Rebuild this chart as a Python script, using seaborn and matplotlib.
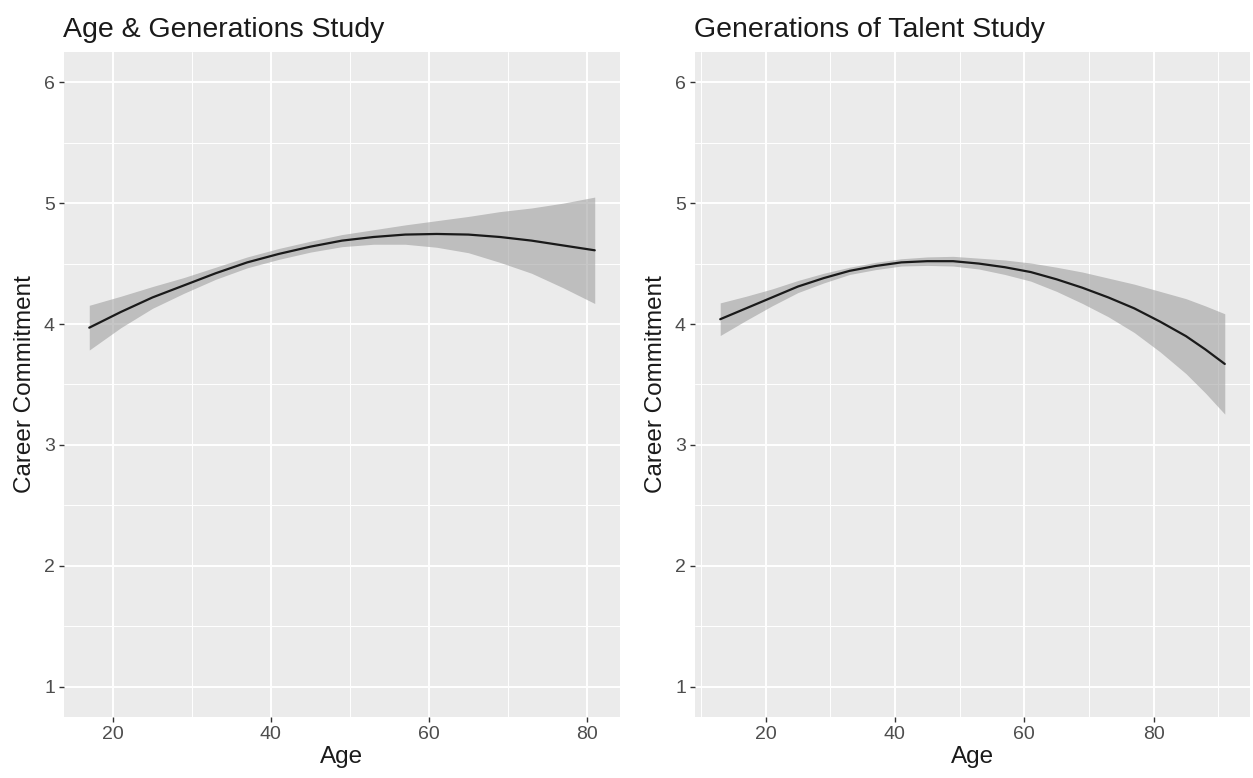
import matplotlib
matplotlib.use("Agg")
import matplotlib.pyplot as plt
import seaborn as sns
import pandas as pd
from matplotlib.ticker import MultipleLocator

# Age & Generations Study: fitted curve and confidence band
ag_age = [17, 21, 25, 29, 33, 37, 41, 45, 49, 53, 57, 61, 65, 69, 73, 77, 81]
ag_fit = [3.97, 4.10, 4.22, 4.32, 4.42, 4.51, 4.58, 4.64, 4.69, 4.72, 4.74, 4.745, 4.74, 4.72, 4.69, 4.65, 4.61]
ag_lo = [3.785, 3.97, 4.13, 4.255, 4.37, 4.465, 4.535, 4.595, 4.64, 4.66, 4.66, 4.635, 4.59, 4.51, 4.42, 4.30, 4.17]
ag_hi = [4.155, 4.23, 4.31, 4.385, 4.47, 4.555, 4.625, 4.685, 4.74, 4.78, 4.82, 4.855, 4.89, 4.93, 4.96, 5.00, 5.05]

# Generations of Talent Study
gt_age = [13, 17, 21, 25, 29, 33, 37, 41, 45, 49, 53, 57, 61, 65, 69, 73, 77, 81, 85, 88, 91]
gt_fit = [4.04, 4.13, 4.22, 4.31, 4.38, 4.44, 4.48, 4.51, 4.52, 4.52, 4.50, 4.47, 4.43, 4.37, 4.30, 4.22, 4.13, 4.02, 3.90, 3.79, 3.67]
gt_lo = [3.905, 4.03, 4.15, 4.26, 4.34, 4.41, 4.45, 4.48, 4.485, 4.48, 4.455, 4.41, 4.355, 4.27, 4.17, 4.06, 3.93, 3.77, 3.59, 3.43, 3.255]
gt_hi = [4.175, 4.23, 4.29, 4.36, 4.42, 4.47, 4.51, 4.54, 4.555, 4.56, 4.545, 4.53, 4.505, 4.47, 4.43, 4.38, 4.33, 4.27, 4.21, 4.15, 4.085]

titles = ["Age & Generations Study", "Generations of Talent Study"]
x_ticks = [20, 40, 60, 80]
y_ticks = [1, 2, 3, 4, 5, 6]

sns.set_theme(style="darkgrid", rc={
    "axes.facecolor": "#EBEBEB",
    "grid.color": "white",
})
plt.rcParams["font.family"] = ["Liberation Sans", "DejaVu Sans"]

W, H = 1253, 778
figure = plt.figure(figsize=(W / 100, H / 100), dpi=100)
figure.patch.set_facecolor("white")

panels = [
    (ag_age, ag_fit, ag_lo, ag_hi, 64, 620),
    (gt_age, gt_fit, gt_lo, gt_hi, 695, 1250),
]
top, bottom = 52, 717

for i, (age, fit, lo, hi, left, right) in enumerate(panels):
    ax = figure.add_axes([left / W, (H - bottom) / H, (right - left) / W, (bottom - top) / H])
    df = pd.DataFrame({"Age": age, "fit": fit, "lo": lo, "hi": hi})

    ax.fill_between(df["Age"], df["lo"], df["hi"], color="#999999", alpha=0.55, linewidth=0, zorder=2)
    sns.lineplot(df, x="Age", y="fit", color="#1a1a1a", linewidth=1.6, ax=ax, zorder=3)

    span = max(age) - min(age)
    ax.set_xlim(min(age) - 0.05 * span, max(age) + 0.05 * span)
    ax.set_ylim(0.75, 6.25)
    ax.set_xticks(x_ticks)
    ax.set_yticks(y_ticks)
    ax.xaxis.set_minor_locator(MultipleLocator(10))
    ax.yaxis.set_minor_locator(MultipleLocator(0.5))
    ax.grid(which="major", color="white", linewidth=1.4)
    ax.grid(which="minor", color="white", linewidth=0.7)
    for s in ax.spines.values():
        s.set_visible(False)

    ax.tick_params(axis="both", which="major", length=3.5, width=1.0, color="#333333",
                   labelsize=14, labelcolor="#4D4D4D", pad=3, bottom=True, left=True)
    ax.tick_params(axis="both", which="minor", length=0)

    ax.set_title(titles[i], loc="left", fontsize=20.5, color="#1a1a1a", pad=11, x=-0.002)
    ax.set_xlabel("Age", fontsize=17.5, color="#1a1a1a", labelpad=2)
    ax.set_ylabel("Career Commitment", fontsize=17.5, color="#1a1a1a", labelpad=6)

figure.savefig("out.png", dpi=100)
